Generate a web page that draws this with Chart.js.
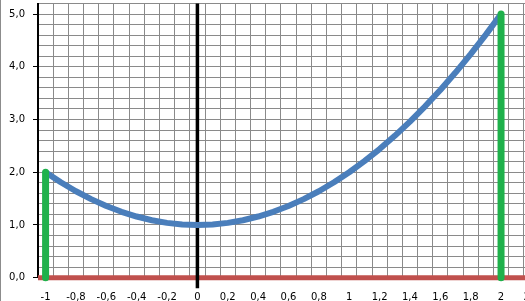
<!DOCTYPE html>
<html>
<head>
<meta charset="utf-8">
<script src="https://cdn.jsdelivr.net/npm/chart.js@4/dist/chart.umd.min.js"></script>
<style>
html,body{margin:0;padding:0;background:#fff;overflow:hidden;}
#wrap{width:525px;height:301px;overflow:hidden;position:relative;}
#c{position:absolute;left:0;top:0;}
</style>
</head>
<body>
<div id="wrap"><canvas id="c" width="545" height="301" style="width:545px;height:301px"></canvas></div>
<script>
// Data
const xValues = [-1,-0.9,-0.8,-0.7,-0.6,-0.5,-0.4,-0.3,-0.2,-0.1,0,0.1,0.2,0.3,0.4,0.5,0.6,0.7,0.8,0.9,1,1.1,1.2,1.3,1.4,1.5,1.6,1.7,1.8,1.9,2];
const yValues = [2,1.81,1.64,1.49,1.36,1.25,1.16,1.09,1.04,1.01,1,1.01,1.04,1.09,1.16,1.25,1.36,1.49,1.64,1.81,2,2.21,2.44,2.69,2.96,3.25,3.56,3.89,4.24,4.61,5];
const xTickLabels = [-1,-0.8,-0.6,-0.4,-0.2,0,0.2,0.4,0.6,0.8,1,1.2,1.4,1.6,1.8,2,2.2];
const yTickLabels = [0,1,2,3,4,5];
const leftBarX = [-1,-1];  const leftBarY = [0,2];
const rightBarX = [2,2];   const rightBarY = [0,5];
const zeroLineX = [-1.05,2.25]; const zeroLineY = [0,0];
const yAxisLineX = [0,0];  const yAxisLineY = [-0.2,5.2];

const gridBoundaries = [];
for (let i = 0; i <= 33; i++) gridBoundaries.push(Math.round((-1.05 + i*0.1)*100)/100);

const pts = (xs, ys) => xs.map((x,i)=>({x:x,y:ys[i]}));
const fmt = v => String(v).replace('.', ',');

const frame = {
  id:'frame',
  afterDraw(chart){
    const c = chart.ctx;
    c.save();
    c.strokeStyle = '#8c8c8c';
    c.lineWidth = 1;
    c.beginPath(); c.moveTo(0.5,0); c.lineTo(0.5,301); c.stroke();
    c.restore();
  }
};

const noPad = s => { s.paddingTop = 0; s.paddingBottom = 0; s.paddingLeft = 0; s.paddingRight = 0; };

new Chart(document.getElementById('c'), {
  type:'line',
  data:{
    datasets:[
      {data:pts(zeroLineX,zeroLineY), borderColor:'#c0504d', borderWidth:5, pointRadius:0, clip:false, order:4},
      {data:pts(yAxisLineX,yAxisLineY), borderColor:'#000000', borderWidth:3.5, pointRadius:0, clip:false, order:3, borderCapStyle:'butt'},
      {data:pts(xValues,yValues), borderColor:'#4a7ebb', borderWidth:6, pointRadius:0, clip:false, order:2, borderJoinStyle:'round', borderCapStyle:'round'},
      {data:pts(leftBarX,leftBarY), borderColor:'#1fb14b', borderWidth:7, pointRadius:0, clip:false, order:1, borderCapStyle:'round'},
      {data:pts(rightBarX,rightBarY), borderColor:'#1fb14b', borderWidth:7, pointRadius:0, clip:false, order:1, borderCapStyle:'round'}
    ]
  },
  options:{
    responsive:false,
    animation:false,
    events:[],
    layout:{padding:{top:3.5,right:6,left:0,bottom:0}},
    plugins:{legend:{display:false},tooltip:{enabled:false}},
    scales:{
      xg:{
        type:'linear', position:'bottom', min:-1.05, max:2.25,
        afterBuildTicks(s){ s.ticks = gridBoundaries.map(v=>({value:v})); },
        afterFit(s){ s.height = 0; noPad(s); },
        grid:{color:'#8a8a8a', lineWidth:1, drawTicks:false},
        border:{display:false},
        ticks:{display:false}
      },
      x:{
        type:'linear', position:'bottom', min:-1.05, max:2.25,
        afterBuildTicks(s){ s.ticks = xTickLabels.map(v=>({value:v})); },
        afterFit(s){ s.height = 23.3; noPad(s); },
        grid:{drawOnChartArea:false, drawTicks:false},
        border:{display:false},
        ticks:{autoSkip:false, maxRotation:0, padding:14, color:'#000', font:{family:'DejaVu Sans', size:10}, callback:v=>fmt(v)}
      },
      y:{
        type:'linear', min:0, max:5.2,
        afterBuildTicks(s){ const t=[]; for(let i=0;i<=26;i++) t.push({value:Math.round(i*0.2*10)/10}); s.ticks=t; },
        afterFit(s){ s.width = 38; noPad(s); },
        grid:{
          color:'#8a8a8a', lineWidth:1, tickLength:5,
          tickColor:ctx=> (ctx.tick && Math.abs(ctx.tick.value-Math.round(ctx.tick.value))<1e-6) ? '#000' : 'rgba(0,0,0,0)'
        },
        border:{display:true, color:'#000', width:2},
        ticks:{autoSkip:false, padding:8, color:'#000', font:{family:'DejaVu Sans', size:10},
          callback:v=> (Math.abs(v-Math.round(v))<1e-6 && yTickLabels.includes(Math.round(v))) ? Math.round(v).toFixed(1).replace('.',',') : ''}
      }
    }
  },
  plugins:[frame]
});
</script>
</body>
</html>
